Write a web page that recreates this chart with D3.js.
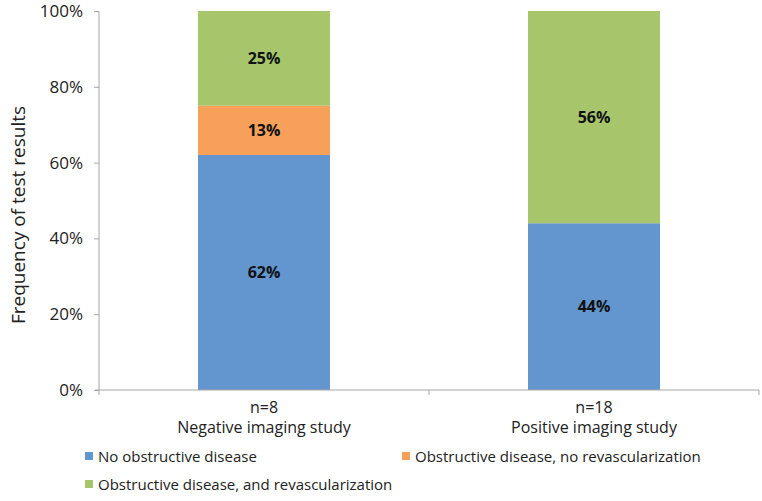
<!DOCTYPE html>
<html>
<head>
<meta charset="utf-8">
<script src="https://cdn.jsdelivr.net/npm/d3@7"></script>
<style>
  body { margin: 0; background: #fff; }
  text { font-family: "Open Sans", "Liberation Sans", sans-serif; }
</style>
</head>
<body>
<div id="chart"></div>
<script>
  const categories = ["Negative imaging study", "Positive imaging study"];
  const counts = ["n=8", "n=18"];
  const seriesNames = ["No obstructive disease", "Obstructive disease, no revascularization", "Obstructive disease, and revascularization"];
  const noObstructive = [62, 44];
  const obstructiveNoRevasc = [13, 0];
  const obstructiveRevasc = [25, 56];
  const yTicks = [0, 20, 40, 60, 80, 100];

  const colors = ["#6396cf", "#f7a05a", "#a7c66c"];

  const W = 762, H = 501;
  const margin = {top: 11, right: 3, bottom: 111, left: 99};
  const width = W - margin.left - margin.right;
  const height = H - margin.top - margin.bottom;

  const svg = d3.select("#chart").append("svg")
    .attr("width", W)
    .attr("height", H);

  const g = svg.append("g")
    .attr("transform", "translate(" + margin.left + "," + margin.top + ")");

  const x = d3.scaleBand()
    .domain(categories)
    .range([0, width])
    .paddingInner(0.6)
    .paddingOuter(0.3);

  const y = d3.scaleLinear()
    .domain([0, 100])
    .range([height, 0]);

  // stack the three series
  const rows = categories.map((c, i) => ({
    cat: c,
    s0: noObstructive[i],
    s1: obstructiveNoRevasc[i],
    s2: obstructiveRevasc[i]
  }));
  const stacked = d3.stack().keys(["s0", "s1", "s2"])(rows);

  const layers = g.selectAll("g.layer")
    .data(stacked)
    .enter().append("g")
      .attr("class", "layer")
      .attr("fill", (d, i) => colors[i]);

  layers.selectAll("rect")
    .data(d => d)
    .enter().append("rect")
      .attr("x", d => x(d.data.cat))
      .attr("width", x.bandwidth())
      .attr("y", d => y(d[1]))
      .attr("height", d => y(d[0]) - y(d[1]));

  layers.selectAll("text")
    .data(d => d.filter(p => p[1] - p[0] > 0))
    .enter().append("text")
      .attr("x", d => x(d.data.cat) + x.bandwidth() / 2)
      .attr("y", d => y((d[0] + d[1]) / 2))
      .attr("dy", "0.35em")
      .attr("text-anchor", "middle")
      .attr("font-size", 16)
      .attr("font-weight", "bold")
      .attr("fill", "#111")
      .text(d => (d[1] - d[0]) + "%");

  // y axis
  const yAxis = g.append("g")
    .call(d3.axisLeft(y).tickValues(yTicks).tickFormat(d => d + "%").tickSize(5).tickPadding(11));
  yAxis.select(".domain").attr("stroke", "#a6a6a6").attr("d", "M0," + height + "V0");
  yAxis.selectAll(".tick line").attr("stroke", "#a6a6a6");
  yAxis.selectAll(".tick text").attr("font-size", 17).attr("fill", "#222")
    .style("font-family", "'Open Sans', sans-serif");

  // x axis: line with ticks at category boundaries
  const xAxisG = g.append("g").attr("transform", "translate(0," + height + ")");
  xAxisG.append("line")
    .attr("x1", -4).attr("x2", width)
    .attr("stroke", "#a6a6a6");
  const bounds = [0, width / 2, width];
  xAxisG.selectAll("line.tick")
    .data(bounds)
    .enter().append("line")
      .attr("class", "tick")
      .attr("x1", d => d).attr("x2", d => d)
      .attr("y1", 0).attr("y2", 5)
      .attr("stroke", "#a6a6a6");

  // two-line category labels: count on top, name below
  const catX = d => x(d) + x.bandwidth() / 2;
  xAxisG.selectAll("text.count")
    .data(categories)
    .enter().append("text")
      .attr("class", "count")
      .attr("text-anchor", "middle")
      .attr("font-size", 16)
      .attr("fill", "#222")
      .attr("x", catX)
      .attr("y", 23)
      .text((d, i) => counts[i]);
  xAxisG.selectAll("text.cat")
    .data(categories)
    .enter().append("text")
      .attr("class", "cat")
      .attr("text-anchor", "middle")
      .attr("font-size", 16)
      .attr("fill", "#222")
      .attr("x", catX)
      .attr("y", 43)
      .text(d => d);

  // y axis title
  svg.append("text")
    .attr("transform", "translate(25," + 215 + ") rotate(-90)")
    .attr("text-anchor", "middle")
    .attr("font-size", 19)
    .attr("fill", "#222")
    .text("Frequency of test results");

  // legend
  const legendPos = [[85, 457], [402, 457], [85, 485]];
  const legend = svg.selectAll("g.legend")
    .data(seriesNames)
    .enter().append("g")
      .attr("class", "legend")
      .attr("transform", (d, i) => "translate(" + legendPos[i][0] + "," + legendPos[i][1] + ")");
  legend.append("rect")
    .attr("x", 0).attr("y", -5)
    .attr("width", 8).attr("height", 8)
    .attr("fill", (d, i) => colors[i]);
  legend.append("text")
    .attr("x", 13)
    .attr("dy", "0.35em")
    .attr("font-size", 15)
    .attr("fill", "#222")
    .text(d => d);
</script>
</body>
</html>
